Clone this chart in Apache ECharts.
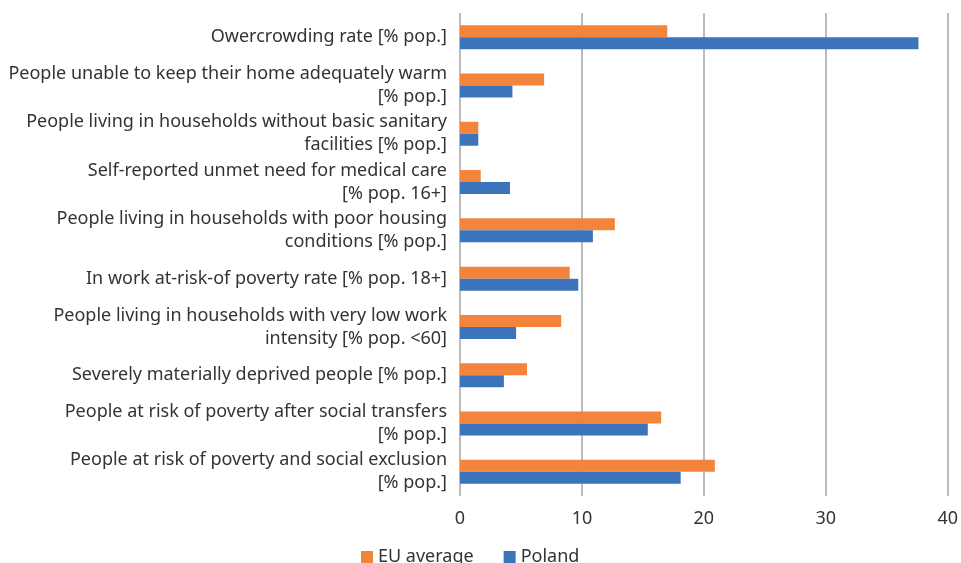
<!DOCTYPE html>
<html>
<head>
<meta charset="utf-8">
<script src="https://cdn.jsdelivr.net/npm/echarts@6/dist/echarts.min.js"></script>
<style>
  html, body { margin: 0; padding: 0; background: #ffffff; }
  #chart { width: 961px; height: 563px; }
</style>
</head>
<body>
<div id="chart"></div>
<script>
// Social indicators, listed top to bottom
const categories = [
  'Owercrowding rate [% pop.]',
  'People unable to keep their home adequately warm\n[% pop.]',
  'People living in households without basic sanitary\nfacilities [% pop.]',
  'Self-reported unmet need for medical care\n[% pop. 16+]',
  'People living in households with poor housing\nconditions [% pop.]',
  'In work at-risk-of poverty rate [% pop. 18+]',
  'People living in households with very low work\nintensity [% pop. <60]',
  'Severely materially deprived people [% pop.]',
  'People at risk of poverty after social transfers\n[% pop.]',
  'People at risk of poverty and social exclusion\n[% pop.]'
];
const euAverage = [17.0, 6.9, 1.5, 1.7, 12.7, 9.0, 8.3, 5.5, 16.5, 20.9];
const poland    = [37.6, 4.3, 1.5, 4.1, 10.9, 9.7, 4.6, 3.6, 15.4, 18.1];
const seriesNames = ['EU average', 'Poland'];
const xTicks = { min: 0, max: 40, interval: 10 };

const FONT = '"Noto Sans", sans-serif';
const TEXT = '#333333';
const chart = echarts.init(document.getElementById('chart'));
chart.setOption({
  animation: false,
  textStyle: { fontFamily: FONT },
  grid: { left: 460, right: 13, top: 13, bottom: 67, containLabel: false },
  legend: {
    top: 548,
    left: 361,
    padding: 0,
    icon: 'rect',
    itemWidth: 12,
    itemHeight: 12,
    itemGap: 30,
    textStyle: { fontFamily: FONT, fontSize: 18, color: TEXT },
    data: seriesNames
  },
  xAxis: {
    type: 'value',
    min: xTicks.min,
    max: xTicks.max,
    interval: xTicks.interval,
    axisLine: { show: false },
    axisTick: { show: false },
    axisLabel: { fontFamily: FONT, fontSize: 18, color: TEXT, margin: 14 },
    splitLine: { show: true, lineStyle: { color: '#a6a6a6', width: 1.5 } }
  },
  yAxis: {
    type: 'category',
    inverse: true,
    data: categories,
    axisLine: { show: false },
    axisTick: { show: false },
    axisLabel: {
      fontFamily: FONT,
      fontSize: 18,
      color: TEXT,
      lineHeight: 23,
      margin: 13,
      align: 'right'
    }
  },
  series: [
    {
      name: seriesNames[0],
      type: 'bar',
      data: euAverage,
      barWidth: 12,
      barGap: '0%',
      itemStyle: { color: '#f3843c' }
    },
    {
      name: seriesNames[1],
      type: 'bar',
      data: poland,
      barWidth: 12,
      barGap: '0%',
      itemStyle: { color: '#3c74bb' }
    }
  ]
});
</script>
</body>
</html>
